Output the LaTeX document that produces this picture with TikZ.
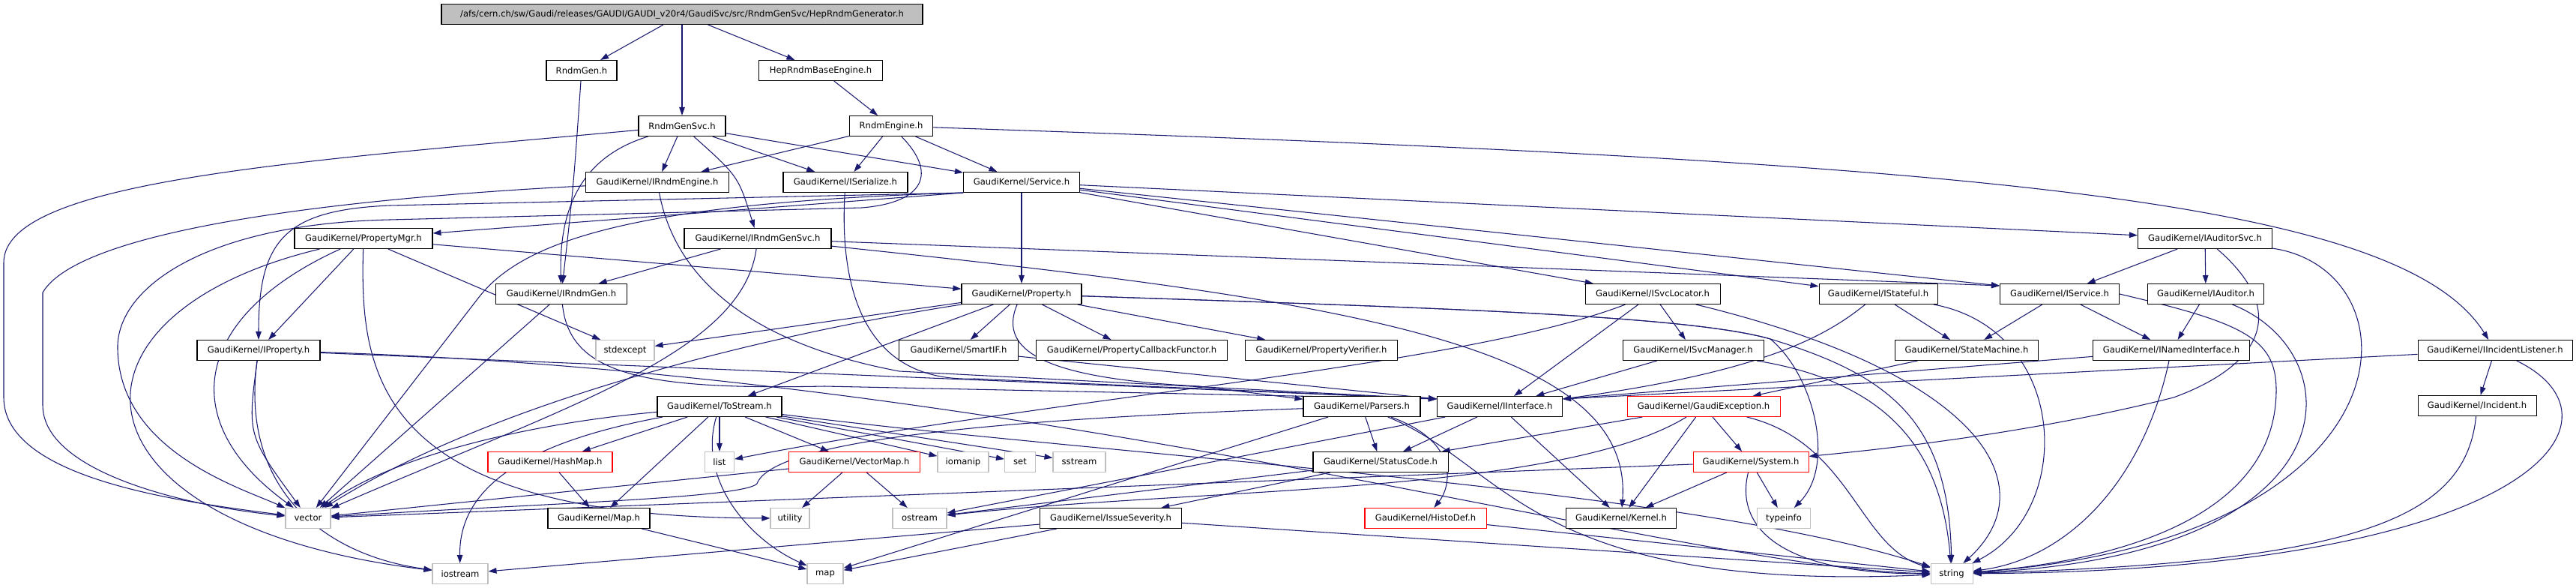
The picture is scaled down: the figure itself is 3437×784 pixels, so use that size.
\documentclass[tikz,border=0pt]{standalone}
\usepackage{fontspec}
\setmainfont{DejaVu Sans}
\usepackage{tikz}
\usetikzlibrary{arrows.meta}
\definecolor{incE}{RGB}{25,25,112}
\definecolor{sysG}{RGB}{191,191,191}
\newcommand{\hdrfont}{\fontsize{6.6}{7.6}\selectfont}
\pgfdeclarelayer{edges}
\pgfsetlayers{edges,main}
\tikzset{
  hdr/.style={rectangle, draw=black, fill=white, line width=0.6pt, font=\hdrfont,
              minimum height=0.54cm, inner sep=0pt, minimum width=#1*0.02cm},
  sys/.style={hdr=#1, draw=sysG},
  trunc/.style={hdr=#1, draw=red},
  inc/.style={-{Triangle[length=2.2mm,width=1.5mm]}, draw=incE, line width=0.6pt},
}

\begin{document}
\begin{tikzpicture}[x=0.02cm, y=-0.02cm]
    \useasboundingbox (0,0) rectangle (3437,784);
    \node[hdr=642, fill=sysG] (top) at (910,19)
      {/afs/cern.ch/sw/Gaudi/releases/GAUDI/GAUDI\_v20r4/GaudiSvc/src/RndmGenSvc/HepRndmGenerator.h};
    \node[hdr=94] (rndmGen) at (776,94) {RndmGen.h};
    \node[hdr=165] (hepBase) at (1095,94) {HepRndmBaseEngine.h};
    \node[hdr=116] (rgSvc) at (910,168) {RndmGenSvc.h};
    \node[hdr=111] (rEngine) at (1189,168) {RndmEngine.h};
    \node[hdr=191] (iRndmEng) at (877,243) {GaudiKernel/IRndmEngine.h};
    \node[hdr=166] (iSerial) at (1128,243) {GaudiKernel/ISerialize.h};
    \node[hdr=155] (service) at (1363,243) {GaudiKernel/Service.h};
    \node[hdr=184] (propMgr) at (485,318) {GaudiKernel/PropertyMgr.h};
    \node[hdr=196] (iRgSvc) at (1011,318) {GaudiKernel/IRndmGenSvc.h};
    \node[hdr=179] (iAudSvc) at (2942,318) {GaudiKernel/IAuditorSvc.h};
    \node[hdr=175] (iRndmGen) at (749,392) {GaudiKernel/IRndmGen.h};
    \node[hdr=160] (property) at (1363,392) {GaudiKernel/Property.h};
    \node[hdr=180] (iSvcLoc) at (2205,392) {GaudiKernel/ISvcLocator.h};
    \node[hdr=158] (iStateful) at (2506,392) {GaudiKernel/IStateful.h};
    \node[hdr=159] (iService) at (2748,392) {GaudiKernel/IService.h};
    \node[hdr=155] (iAuditor) at (2943,392) {GaudiKernel/IAuditor.h};
    \node[hdr=164] (iProp) at (345,467) {GaudiKernel/IProperty.h};
    \node[sys=78] (stdexcept) at (834,467) {stdexcept};
    \node[hdr=159] (smartIF) at (1279,467) {GaudiKernel/SmartIF.h};
    \node[hdr=255] (propCb) at (1510,467) {GaudiKernel/PropertyCallbackFunctor.h};
    \node[hdr=203] (propVer) at (1763,467) {GaudiKernel/PropertyVerifier.h};
    \node[hdr=188] (iSvcMgr) at (2259,467) {GaudiKernel/ISvcManager.h};
    \node[hdr=191] (stateMach) at (2624,467) {GaudiKernel/StateMachine.h};
    \node[hdr=209] (iNamed) at (2897,467) {GaudiKernel/INamedInterface.h};
    \node[hdr=206] (iIncList) at (3329,467) {GaudiKernel/IIncidentListener.h};
    \node[hdr=166] (toStream) at (960,542) {GaudiKernel/ToStream.h};
    \node[hdr=156] (parsers) at (1817,542) {GaudiKernel/Parsers.h};
    \node[hdr=167] (iIface) at (2001,542) {GaudiKernel/IInterface.h};
    \node[trunc=204] (gExc) at (2273,542) {GaudiKernel/GaudiException.h};
    \node[hdr=158] (incident) at (3305,541) {GaudiKernel/Incident.h};
    \node[trunc=166] (hashMap) at (734,616) {GaudiKernel/HashMap.h};
    \node[sys=39] (list) at (960,616) {list};
    \node[trunc=175] (vecMap) at (1140,616) {GaudiKernel/VectorMap.h};
    \node[sys=68] (iomanip) at (1285,616) {iomanip};
    \node[sys=41] (set) at (1361,616) {set};
    \node[sys=70] (sstream) at (1440,616) {sstream};
    \node[hdr=180] (statusCode) at (1842,616) {GaudiKernel/StatusCode.h};
    \node[trunc=154] (system) at (2336,616) {GaudiKernel/System.h};
    \node[sys=60] (vector) at (411,691) {vector};
    \node[hdr=136] (mapH) at (799,691) {GaudiKernel/Map.h};
    \node[sys=52] (utility) at (1054,691) {utility};
    \node[sys=72] (ostream) at (1227,691) {ostream};
    \node[hdr=189] (issueSev) at (1482,691) {GaudiKernel/IssueSeverity.h};
    \node[trunc=162] (histoDef) at (1902,691) {GaudiKernel/HistoDef.h};
    \node[hdr=147] (kernel) at (2163,691) {GaudiKernel/Kernel.h};
    \node[sys=71] (typeinfo) at (2380,691) {typeinfo};
    \node[sys=74] (iostream) at (614,765) {iostream};
    \node[sys=48] (map) at (1101,765) {map};
    \node[sys=56] (string) at (2604,765) {string};
    \coordinate (ifL) at ([yshift=-0.8mm]iIface.north west);
    \coordinate (ifR) at ([yshift=-0.8mm]iIface.north east);
    \coordinate (isvL) at ([yshift=-0.6mm]iService.north west);

    \begin{pgfonlayer}{edges}
    \draw[inc] (top) -- (rndmGen); \draw[inc] (top) -- (rgSvc); \draw[inc] (top) -- (hepBase);
    \draw[inc] (rndmGen) .. controls (765,250) .. (iRndmGen);
    \draw[inc] (hepBase) -- (rEngine);
    % RndmGenSvc.h
    \draw[inc] (rgSvc) -- (iRndmEng); \draw[inc] (rgSvc) -- (iSerial); \draw[inc] (rgSvc) -- (service);
    \draw[inc] (rgSvc) .. controls (985,235) .. (iRgSvc);
    \draw[inc] (rgSvc) .. controls (790,205) and (745,260) .. (iRndmGen);
    \draw[inc] (rgSvc) .. controls (400,215) and (5,240) .. (5,350) -- (5,530) .. controls (5,640) and (250,670) .. (vector);
    % RndmEngine.h
    \draw[inc] (rEngine) -- (iRndmEng); \draw[inc] (rEngine) -- (iSerial); \draw[inc] (rEngine) -- (service);
    \draw[inc] (rEngine) .. controls (2600,215) and (3200,260) .. (iIncList);
    \draw[inc] (rEngine) .. controls (1250,230) and (1235,270) .. (1150,277) -- (520,293)
      .. controls (280,298) and (160,380) .. (157,460) .. controls (155,600) and (320,650) .. (vector);
    \draw[inc] (iRndmEng) .. controls (500,262) and (110,300) .. (57,390) -- (57,540)
      .. controls (57,630) and (250,675) .. (vector);
    \draw[inc] (iRndmEng) .. controls (895,340) and (960,450) .. (1200,495) -- (ifL);
    \draw[inc] (iSerial) .. controls (1120,380) and (1150,510) .. (1300,505) -- (ifL);
    % Service.h
    \draw[inc] (service) -- (property); \draw[inc] (service.south west) -- (propMgr);
    \draw[inc] (service.south west) -- (520,274) .. controls (380,280) and (345,320) .. (iProp);
    \draw[inc] (service.south west) .. controls (850,270) and (700,320) .. (640,395) -- (vector);
    \draw[inc] (service) -- (iSvcLoc); \draw[inc] (service) -- (iStateful);
    \draw[inc] (service) -- (isvL); \draw[inc] (service) -- (iAudSvc);
    % PropertyMgr.h, IProperty.h
    \draw[inc] (propMgr) -- (iProp); \draw[inc] (propMgr) -- (property); \draw[inc] (propMgr) -- (stdexcept);
    \draw[inc] (propMgr) .. controls (480,500) and (500,690) .. (utility);
    \draw[inc] (propMgr) .. controls (260,420) and (230,560) .. (vector);
    \draw[inc] (propMgr) .. controls (60,420) and (80,700) .. (iostream);
    \draw[inc] (iProp) .. controls (330,580) .. (vector);
    \draw[inc] (iProp) .. controls (320,650) and (430,740) .. (iostream);
    \draw[inc] (iProp) -- (ifL);
    \draw[inc] (iProp) .. controls (1400,500) and (2250,760) .. (string);
    % IRndmGen.h, IRndmGenSvc.h
    \draw[inc] (iRndmGen) -- (vector);
    \draw[inc] (iRndmGen) .. controls (760,500) and (860,520) .. (1100,515) -- (ifL);
    \draw[inc] (iRgSvc) -- (iRndmGen); \draw[inc] (iRgSvc) -- (isvL);
    \draw[inc] (iRgSvc) .. controls (990,470) and (760,540) .. (vector);
    \draw[inc] (iRgSvc) .. controls (1800,400) and (2180,460) .. (kernel);
    % Property.h
    \draw[inc] (property) -- (stdexcept); \draw[inc] (property) -- (toStream); \draw[inc] (property) -- (smartIF);
    \draw[inc] (property) -- (propCb); \draw[inc] (property) -- (propVer);
    \draw[inc] (property) .. controls (1330,470) and (1400,505) .. (1600,515) -- (parsers);
    \draw[inc] (property.south west) .. controls (1000,450) and (650,540) .. (vector);
    \draw[inc] (property) .. controls (1900,410) and (2250,420) .. (2362,452) .. controls (2420,500) and (2450,620) .. (typeinfo);
    \draw[inc] (property) .. controls (1900,410) and (2250,420) .. (2362,452) .. controls (2520,500) and (2600,560) .. (string);
    \draw[inc] (smartIF) -- (ifL);
    % ISvcLocator.h, ISvcManager.h
    \draw[inc] (iSvcLoc) .. controls (1950,490) and (1400,530) .. (list);
    \draw[inc] (iSvcLoc) -- (iIface); \draw[inc] (iSvcLoc) -- (iSvcMgr);
    \draw[inc] (iSvcLoc) .. controls (2650,500) and (2730,650) .. (string);
    \draw[inc] (iSvcMgr) -- (iIface);
    \draw[inc] (iSvcMgr) .. controls (2520,510) and (2590,600) .. (string);
    % IStateful.h, IService.h, IAuditorSvc.h
    \draw[inc] (iStateful) -- (stateMach);
    \draw[inc] (iStateful) .. controls (2440,445) and (2360,495) .. (ifR);
    \draw[inc] (iStateful) .. controls (2760,440) and (2770,680) .. (string);
    \draw[inc] (iService) -- (stateMach); \draw[inc] (iService) -- (iNamed);
    \draw[inc] (iService.east) .. controls (2990,430) and (3037,450) .. (3037,520)
      .. controls (3037,700) and (2800,750) .. (string);
    \draw[inc] (iAudSvc) -- (iService); \draw[inc] (iAudSvc) -- (iAuditor);
    \draw[inc] (iAudSvc) .. controls (3060,420) and (3010,490) .. (2900,530)
      .. controls (2700,580) and (2500,600) .. (system);
    \draw[inc] (iAudSvc) .. controls (3230,360) and (3230,720) .. (string);
    \draw[inc] (iAuditor) -- (iNamed);
    \draw[inc] (iAuditor) .. controls (3140,470) and (3150,740) .. (string);
    \draw[inc] (iNamed) -- (ifR);
    \draw[inc] (iNamed) .. controls (2860,640) and (2760,745) .. (string);
    \draw[inc] (iIncList) -- (ifR); \draw[inc] (iIncList) -- (incident);
    \draw[inc] (iIncList) .. controls (3520,560) and (3380,760) .. (string);
    \draw[inc] (incident) .. controls (3290,690) and (3150,750) .. (string);
    \draw[inc] (stateMach) -- (gExc);
    % ToStream.h
    \draw[inc] (toStream) -- (hashMap); \draw[inc] (toStream) -- (list); \draw[inc] (toStream) -- (vecMap);
    \draw[inc] (toStream) -- (iomanip); \draw[inc] (toStream) -- (set); \draw[inc] (toStream) -- (sstream);
    \draw[inc] (toStream) -- (mapH);
    \draw[inc] (toStream) .. controls (930,640) and (1000,720) .. (map);
    \draw[inc] (toStream) .. controls (700,565) and (520,610) .. (vector);
    \draw[inc] (toStream) .. controls (700,590) and (612,650) .. (iostream);
    \draw[inc] (toStream) .. controls (1500,610) and (2250,650) .. (string);
    \draw[inc] (hashMap) -- (mapH); \draw[inc] (mapH) -- (map);
    \draw[inc] (vecMap) -- (vector); \draw[inc] (vecMap) -- (utility); \draw[inc] (vecMap) -- (ostream);
    % Parsers.h, IInterface.h, GaudiException.h
    \draw[inc] (parsers) .. controls (1300,560) and (1030,590) .. (1010,645)
      .. controls (990,665) and (700,672) .. (vector);
    \draw[inc] (parsers) -- (statusCode); \draw[inc] (parsers) -- (map);
    \draw[inc] (parsers) .. controls (1950,590) and (1935,650) .. (histoDef);
    \draw[inc] (parsers) .. controls (2010,620) and (2040,790) .. (string);
    \draw[inc] (iIface) -- (statusCode); \draw[inc] (iIface) -- (kernel); \draw[inc] (iIface) -- (ostream);
    \draw[inc] (gExc) -- (statusCode); \draw[inc] (gExc) -- (kernel); \draw[inc] (gExc) -- (system);
    \draw[inc] (gExc) .. controls (2080,660) and (1600,650) .. (ostream);
    \draw[inc] (gExc) .. controls (2470,590) and (2480,730) .. (string);
    % StatusCode.h, System.h, IssueSeverity.h, HistoDef.h
    \draw[inc] (statusCode) -- (ostream); \draw[inc] (statusCode) -- (issueSev);
    \draw[inc] (system) -- (vector); \draw[inc] (system) -- (kernel); \draw[inc] (system) -- (typeinfo);
    \draw[inc] (system) .. controls (2315,700) and (2370,765) .. (string);
    \draw[inc] (issueSev) -- (iostream); \draw[inc] (issueSev) -- (map); \draw[inc] (issueSev) -- (string);
    \draw[inc] (histoDef) -- (string);
    \end{pgfonlayer}
  \end{tikzpicture}
\end{document}
